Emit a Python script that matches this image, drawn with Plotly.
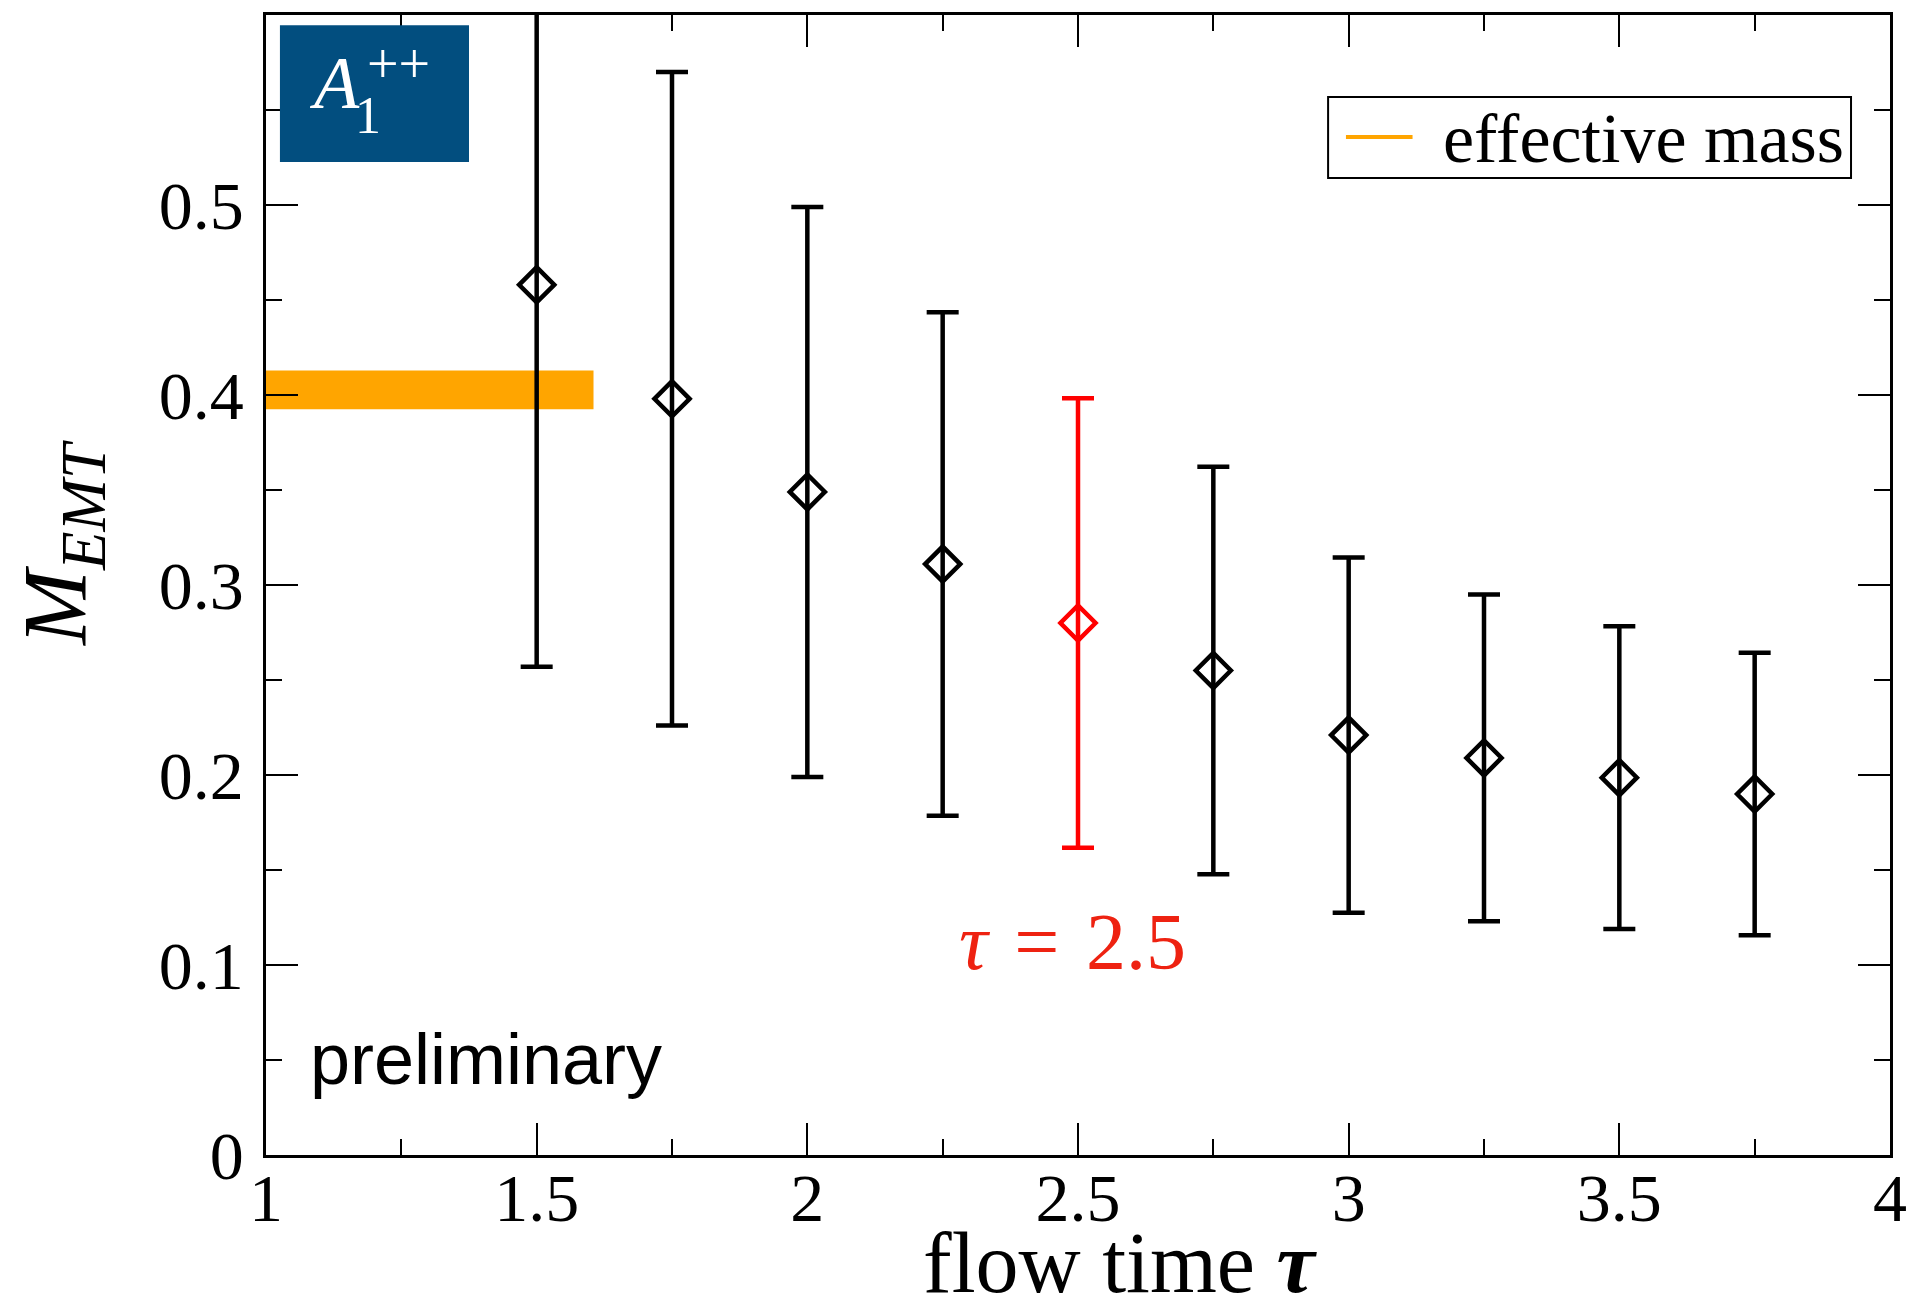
import plotly.graph_objects as go

# ---- data ----
flow_time = [1.5, 1.75, 2.0, 2.25, 2.5, 2.75, 3.0, 3.25, 3.5, 3.75]
m_emt = [0.458, 0.398, 0.349, 0.311, 0.280, 0.255, 0.221, 0.209, 0.1986, 0.190]
m_err = [0.201, 0.172, 0.150, 0.1325, 0.1183, 0.1073, 0.0935, 0.086, 0.0797, 0.0743]
highlight_tau = 2.5

band_x = [1.0, 1.605]
band_center = 0.4027
band_halfwidth = 0.0102

x_ticks = [1, 1.5, 2, 2.5, 3, 3.5, 4]
x_ticklabels = ["1", "1.5", "2", "2.5", "3", "3.5", "4"]
y_ticks = [0, 0.1, 0.2, 0.3, 0.4, 0.5]
y_ticklabels = ["0", "0.1", "0.2", "0.3", "0.4", "0.5"]

SERIF = "Liberation Serif"
SANS = "Liberation Sans"

fig = go.Figure()

# effective-mass band
fig.add_trace(go.Scatter(
    x=[band_x[0], band_x[1], band_x[1], band_x[0], band_x[0]],
    y=[band_center - band_halfwidth, band_center - band_halfwidth,
       band_center + band_halfwidth, band_center + band_halfwidth,
       band_center - band_halfwidth],
    mode="lines", fill="toself", fillcolor="#ffa500",
    line=dict(width=0, color="#ffa500"), showlegend=False, hoverinfo="skip"))

# black points
bx = [x for x in flow_time if x != highlight_tau]
by = [y for x, y in zip(flow_time, m_emt) if x != highlight_tau]
be = [e for x, e in zip(flow_time, m_err) if x != highlight_tau]
fig.add_trace(go.Scatter(
    x=bx, y=by, mode="markers",
    error_y=dict(type="data", array=be, visible=True, color="black", thickness=4.5, width=16),
    marker=dict(symbol="diamond-open", size=27, color="black", line=dict(width=4.5, color="black")),
    showlegend=False))

# red highlighted point
rx = [x for x in flow_time if x == highlight_tau]
ry = [y for x, y in zip(flow_time, m_emt) if x == highlight_tau]
re = [e for x, e in zip(flow_time, m_err) if x == highlight_tau]
fig.add_trace(go.Scatter(
    x=rx, y=ry, mode="markers",
    error_y=dict(type="data", array=re, visible=True, color="#ff0000", thickness=4.5, width=16),
    marker=dict(symbol="diamond-open", size=27, color="#ff0000", line=dict(width=4.5, color="#ff0000")),
    showlegend=False))

axis_common = dict(
    showline=True, linecolor="black", linewidth=2.5, mirror="allticks",
    ticks="inside", ticklen=32, tickwidth=2, tickcolor="black",
    showgrid=False, zeroline=False,
    tickfont=dict(family=SERIF, size=68, color="black"),
)

fig.update_xaxes(range=[1, 4], tickvals=x_ticks, ticktext=x_ticklabels,
                 minor=dict(ticks="inside", ticklen=16, tickwidth=2, tickcolor="black", dtick=0.25, showgrid=False),
                 ticklabelstandoff=-18, **axis_common)
fig.update_yaxes(range=[0, 0.6], tickvals=y_ticks, ticktext=y_ticklabels,
                 minor=dict(ticks="inside", ticklen=16, tickwidth=2, tickcolor="black", dtick=0.05, showgrid=False),
                 ticklabelstandoff=6, **axis_common)

shapes = [
    # A1++ box
    dict(type="rect", xref="paper", yref="paper", x0=0.00858, x1=0.125, y0=0.871, y1=0.991,
         fillcolor="#024e7f", line=dict(width=0), layer="above"),
    # legend box
    dict(type="rect", xref="paper", yref="paper", x0=0.654, x1=0.976, y0=0.857, y1=0.928,
         fillcolor="white", line=dict(width=2, color="black"), layer="above"),
    dict(type="line", xref="paper", yref="paper", x0=0.665, x1=0.706, y0=0.893, y1=0.893,
         line=dict(width=4, color="#ffa500"), layer="above"),
]

annotations = [
    dict(text="<i>A</i>", xref="paper", yref="paper", x=0.0423, y=0.940, showarrow=False,
         xanchor="center", yanchor="middle", font=dict(family=SERIF, size=74, color="white")),
    dict(text="1", xref="paper", yref="paper", x=0.0628, y=0.912, showarrow=False,
         xanchor="center", yanchor="middle", font=dict(family=SERIF, size=52, color="white")),
    dict(text="++", xref="paper", yref="paper", x=0.0818, y=0.957, showarrow=False,
         xanchor="center", yanchor="middle", font=dict(family=SERIF, size=56, color="white")),
    dict(text="effective mass", xref="paper", yref="paper", x=0.7235, y=0.892, showarrow=False,
         xanchor="left", yanchor="middle", font=dict(family=SERIF, size=70, color="black")),
    dict(text="preliminary", xref="paper", yref="paper", x=0.026, y=0.0846, showarrow=False,
         xanchor="left", yanchor="middle", font=dict(family=SANS, size=72, color="black")),
    dict(text="<i>τ</i>\u200a = \u200a2.5", xref="x", yref="y", x=2.49, y=0.112, showarrow=False,
         xanchor="center", yanchor="middle", font=dict(family=SERIF, size=80, color="#ee2211")),
    dict(text="flow time <b><i>τ</i></b>", xref="paper", yref="paper", x=0.526, y=-0.0945, showarrow=False,
         xanchor="center", yanchor="middle", font=dict(family=SERIF, size=86, color="black")),
    dict(text="<i>M</i><sub><i>EMT</i></sub>", xref="paper", yref="paper", x=-0.125, y=0.536, showarrow=False,
         textangle=-90, xanchor="center", yanchor="middle", font=dict(family=SERIF, size=90, color="black")),
]

fig.update_layout(
    width=1919, height=1305,
    margin=dict(l=266, r=21, t=14, b=150, pad=0),
    paper_bgcolor="white", plot_bgcolor="white",
    shapes=shapes, annotations=annotations, showlegend=False,
)

fig.write_html("out.html")
